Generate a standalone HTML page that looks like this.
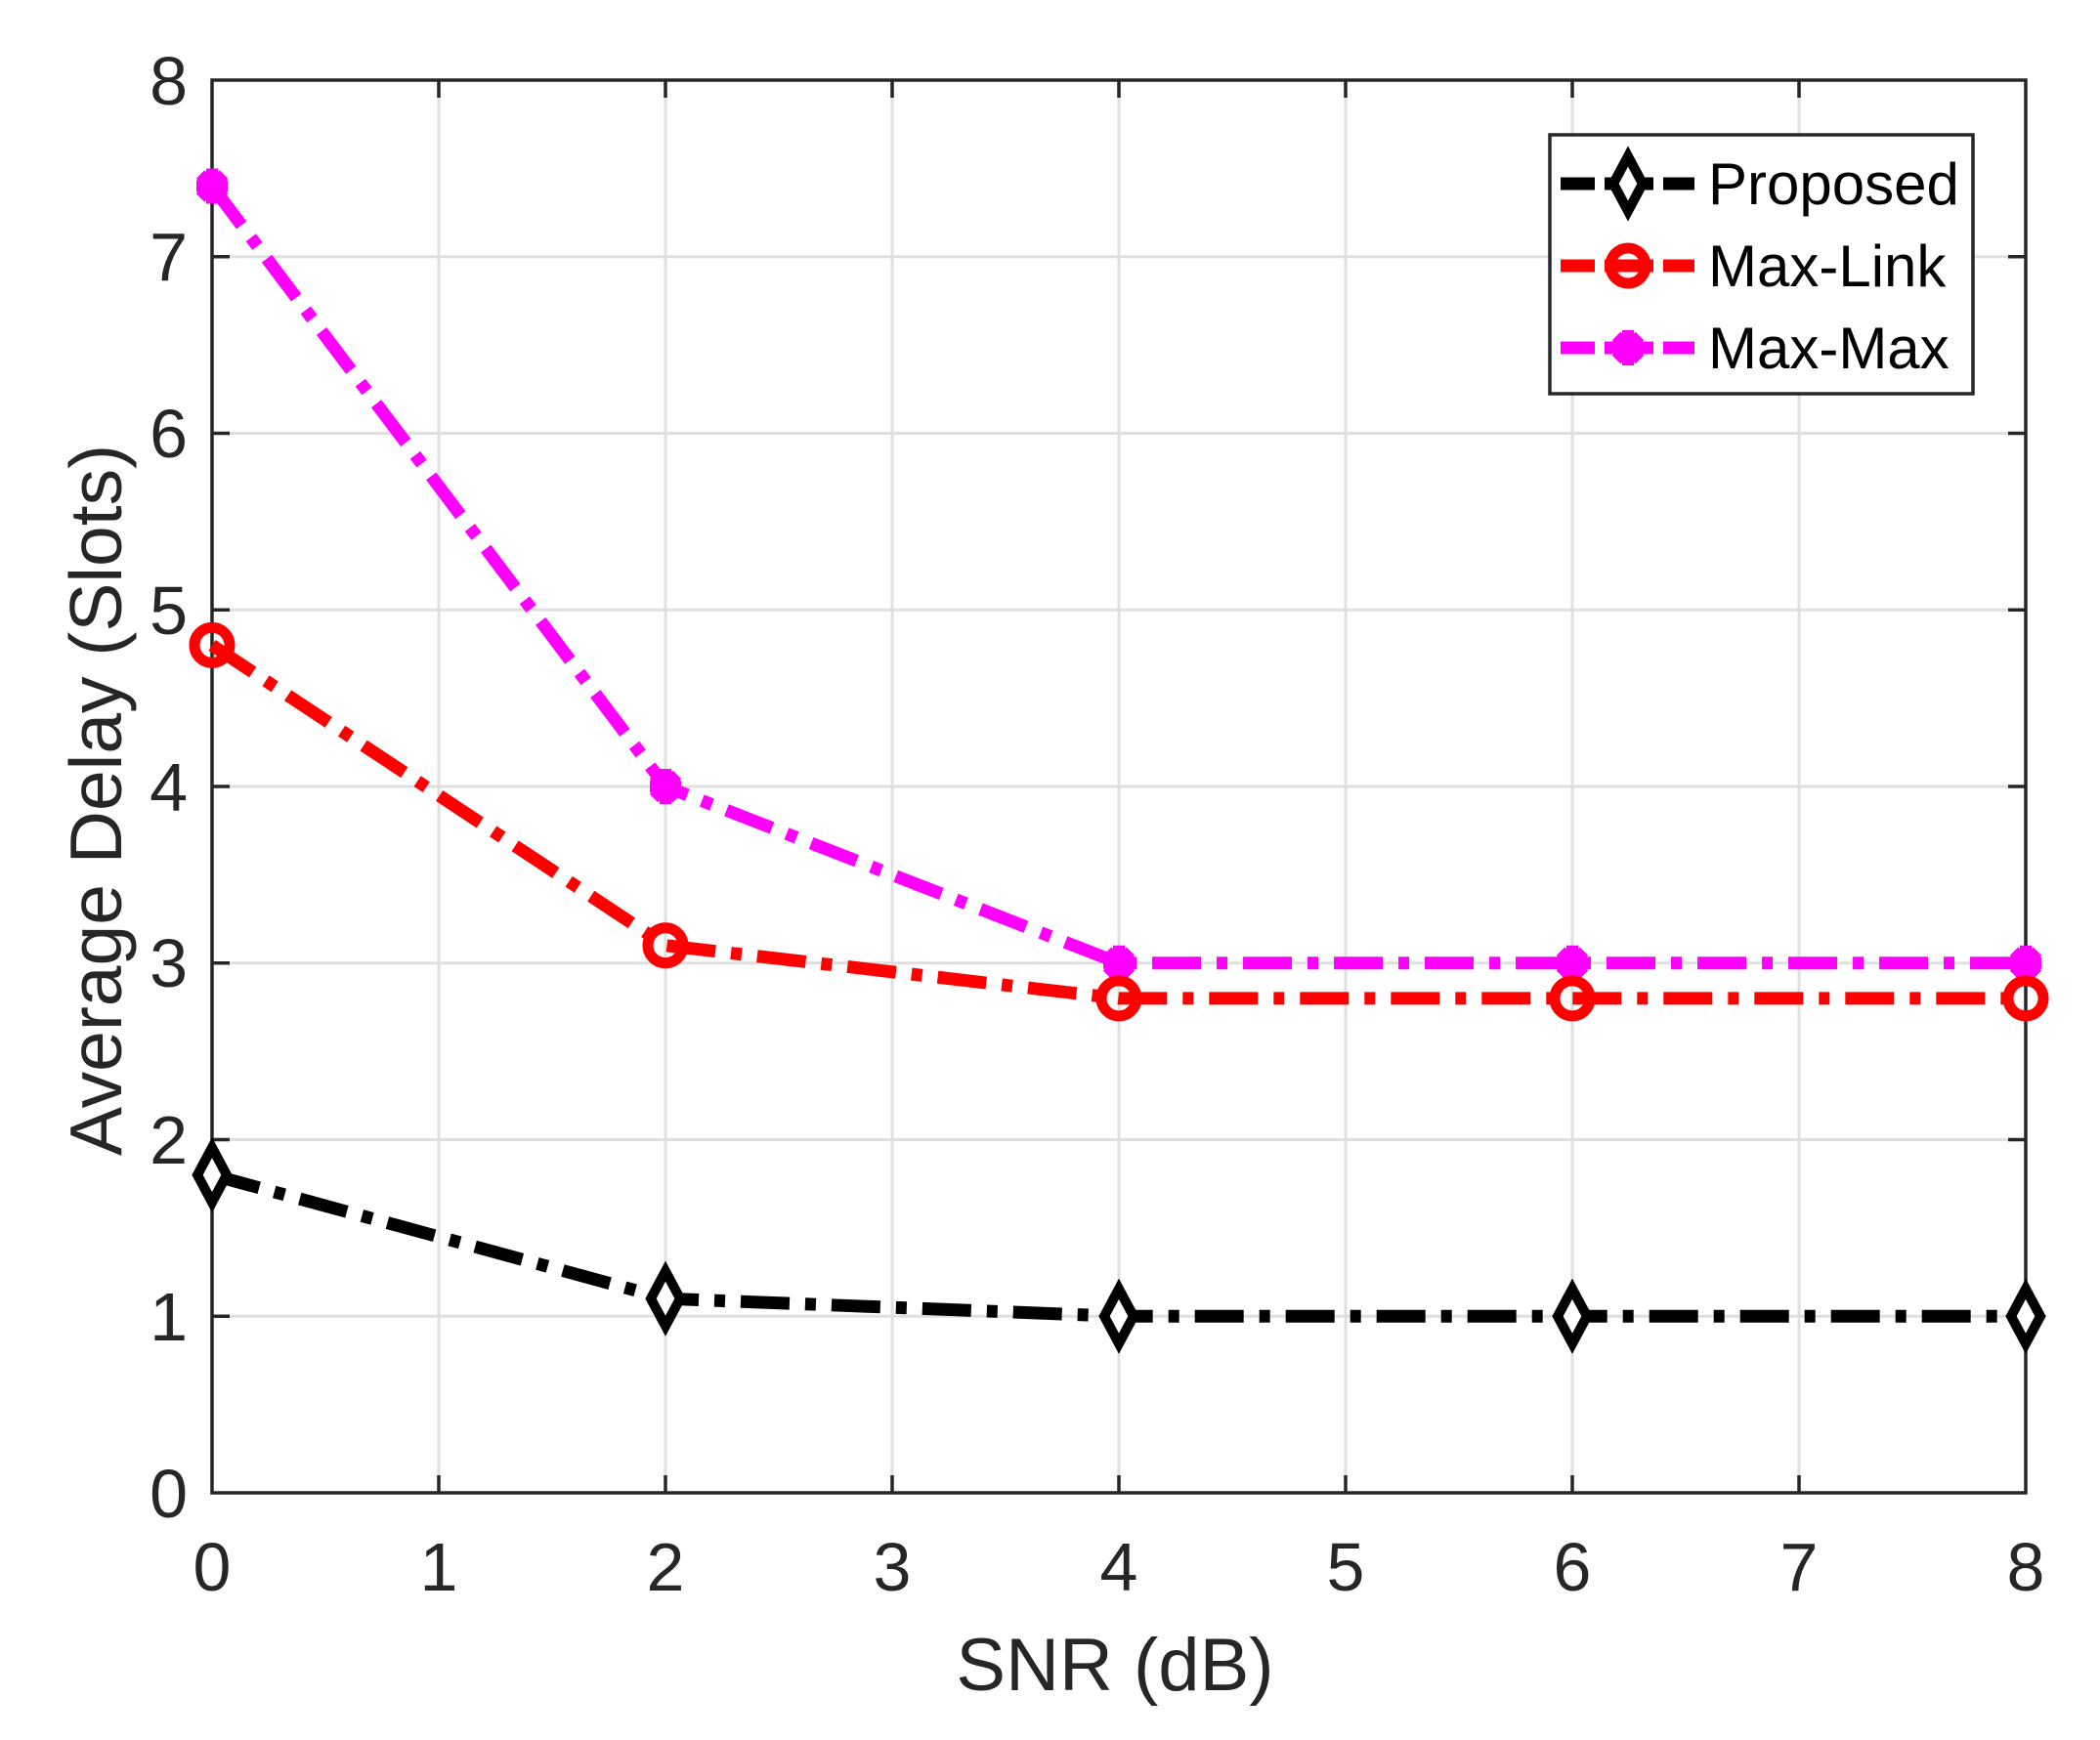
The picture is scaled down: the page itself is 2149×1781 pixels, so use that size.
<!DOCTYPE html>
<html><head><meta charset="utf-8"><style>html,body{margin:0;padding:0;background:#fff}</style></head>
<body>
<svg width="2149" height="1776" xmlns="http://www.w3.org/2000/svg" font-family="Liberation Sans, sans-serif">
<rect width="2149" height="1776" fill="#fff"/>
<g stroke="#dfdfdf" stroke-width="3">
<line x1="449" y1="82" x2="449" y2="1528"/><line x1="681" y1="82" x2="681" y2="1528"/>
<line x1="913" y1="82" x2="913" y2="1528"/><line x1="1145" y1="82" x2="1145" y2="1528"/>
<line x1="1377" y1="82" x2="1377" y2="1528"/><line x1="1609" y1="82" x2="1609" y2="1528"/>
<line x1="1841" y1="82" x2="1841" y2="1528"/>
<line x1="217" y1="262.75" x2="2073" y2="262.75"/><line x1="217" y1="443.5" x2="2073" y2="443.5"/>
<line x1="217" y1="624.25" x2="2073" y2="624.25"/><line x1="217" y1="805" x2="2073" y2="805"/>
<line x1="217" y1="985.75" x2="2073" y2="985.75"/><line x1="217" y1="1166.5" x2="2073" y2="1166.5"/>
<line x1="217" y1="1347.25" x2="2073" y2="1347.25"/>
</g>
<g stroke="#262626" stroke-width="3.5">
<rect x="217" y="82" width="1856" height="1446" fill="none"/>
<path d="M449 1528v-18M681 1528v-18M913 1528v-18M1145 1528v-18M1377 1528v-18M1609 1528v-18M1841 1528v-18
M449 82v18M681 82v18M913 82v18M1145 82v18M1377 82v18M1609 82v18M1841 82v18
M217 262.75h18M217 443.5h18M217 624.25h18M217 805h18M217 985.75h18M217 1166.5h18M217 1347.25h18
M2073 262.75h-18M2073 443.5h-18M2073 624.25h-18M2073 805h-18M2073 985.75h-18M2073 1166.5h-18M2073 1347.25h-18"/>
</g>
<g fill="#262626" font-size="70" text-anchor="middle">
<text x="217" y="1628">0</text><text x="449" y="1628">1</text><text x="681" y="1628">2</text>
<text x="913" y="1628">3</text><text x="1145" y="1628">4</text><text x="1377" y="1628">5</text>
<text x="1609" y="1628">6</text><text x="1841" y="1628">7</text><text x="2073" y="1628">8</text>
</g>
<g fill="#262626" font-size="70" text-anchor="end">
<text x="192" y="1553">0</text><text x="192" y="1372">1</text><text x="192" y="1191">2</text>
<text x="192" y="1010">3</text><text x="192" y="830">4</text><text x="192" y="649">5</text>
<text x="192" y="468">6</text><text x="192" y="287">7</text><text x="192" y="107">8</text>
</g>
<text x="1141" y="1730" font-size="76" fill="#262626" text-anchor="middle">SNR (dB)</text>
<text transform="translate(124,819) rotate(-90)" font-size="75" fill="#262626" text-anchor="middle">Average Delay (Slots)</text>
<g fill="none" stroke-width="13" stroke-dasharray="50 16 11 16">
<polyline stroke="#ff00ff" points="217,190.5 681,805 1145,985.75 1609,985.75 2073,985.75"/>
<polyline stroke="#ff0000" points="217,660.4 681,967.7 1145,1021.9 1609,1021.9 2073,1021.9"/>
<polyline stroke="#000" points="217,1202.6 681,1329.2 1145,1347.25 1609,1347.25 2073,1347.25"/>
</g>
<defs>
<g id="star"><path d="M-16 0H16M0-18V18M-12-12L12 12M-12 12L12-12" stroke="#ff00ff" stroke-width="12"/><circle r="13" fill="#ff00ff"/></g>
<g id="circ"><circle r="18" fill="none" stroke="#ff0000" stroke-width="11"/></g>
<g id="dia"><path d="M0-28L15 0L0 28L-15 0Z" fill="#fff" stroke="#000" stroke-width="10"/></g>
</defs>
<use href="#star" x="217" y="190.5"/><use href="#star" x="681" y="805"/><use href="#star" x="1145" y="985.75"/><use href="#star" x="1609" y="985.75"/><use href="#star" x="2073" y="985.75"/>
<use href="#circ" x="217" y="660.4"/><use href="#circ" x="681" y="967.7"/><use href="#circ" x="1145" y="1021.9"/><use href="#circ" x="1609" y="1021.9"/><use href="#circ" x="2073" y="1021.9"/>
<use href="#dia" x="217" y="1202.6"/><use href="#dia" x="681" y="1329.2"/><use href="#dia" x="1145" y="1347.25"/><use href="#dia" x="1609" y="1347.25"/><use href="#dia" x="2073" y="1347.25"/>
<rect x="1586" y="138" width="433" height="265" fill="#fff" stroke="#262626" stroke-width="3.5"/>
<g stroke-width="13" fill="none">
<path d="M1597 188h35M1642 188h50M1702 188h32" stroke="#000"/>
<path d="M1597 272h35M1642 272h50M1702 272h32" stroke="#ff0000"/>
<path d="M1597 356h35M1642 356h50M1702 356h32" stroke="#ff00ff"/>
</g>
<use href="#dia" x="1666" y="188"/><use href="#circ" x="1666" y="272"/><use href="#star" x="1666" y="356"/>
<g font-size="60" fill="#000">
<text x="1748" y="209">Proposed</text><text x="1748" y="293">Max-Link</text><text x="1748" y="377">Max-Max</text>
</g>
</svg>
</body></html>
